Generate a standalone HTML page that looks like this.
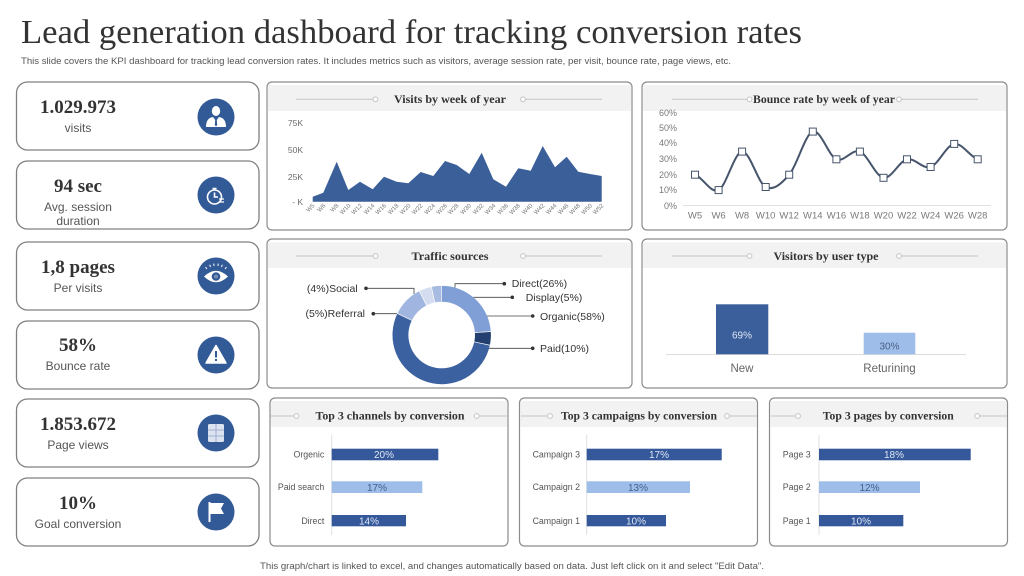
<!DOCTYPE html>
<html><head><meta charset="utf-8">
<style>
html,body{margin:0;padding:0;background:#fff;}
svg{display:block;}
.t{font-family:"Liberation Serif",serif;font-weight:bold;fill:#333;}
.s{font-family:"Liberation Sans",sans-serif;}
</style></head>
<body>
<svg width="1024" height="576" viewBox="0 0 1024 576" xmlns="http://www.w3.org/2000/svg">
<rect width="1024" height="576" fill="#fff"/>
<!-- Title -->
<text x="21" y="43" font-family="Liberation Serif, serif" font-size="34" fill="#333" textLength="781" lengthAdjust="spacingAndGlyphs">Lead generation dashboard for tracking conversion rates</text>
<text x="21" y="64" class="s" font-size="9" fill="#555" textLength="710" lengthAdjust="spacingAndGlyphs">This slide covers the KPI dashboard for tracking lead conversion rates. It includes metrics such as visitors, average session rate, per visit, bounce rate, page views, etc.</text>

<!-- KPI cards -->
<g fill="#fff" stroke="#808080" stroke-width="1.3">
<rect x="16.5" y="82" width="242.5" height="68" rx="11"/>
<rect x="16.5" y="161" width="242.5" height="68" rx="11"/>
<rect x="16.5" y="242" width="242.5" height="68" rx="11"/>
<rect x="16.5" y="321" width="242.5" height="68" rx="11"/>
<rect x="16.5" y="399" width="242.5" height="68" rx="11"/>
<rect x="16.5" y="478" width="242.5" height="68" rx="11"/>
</g>
<g class="t" font-size="19" text-anchor="middle">
<text x="78" y="113">1.029.973</text>
<text x="78" y="192">94 sec</text>
<text x="78" y="273">1,8 pages</text>
<text x="78" y="351">58%</text>
<text x="78" y="430">1.853.672</text>
<text x="78" y="509">10%</text>
</g>
<g class="s" font-size="12" fill="#555" text-anchor="middle">
<text x="78" y="132">visits</text>
<text x="78" y="211">Avg. session</text>
<text x="78" y="225">duration</text>
<text x="78" y="292">Per visits</text>
<text x="78" y="370">Bounce rate</text>
<text x="78" y="449">Page views</text>
<text x="78" y="528">Goal conversion</text>
</g>
<!-- icons -->
<g fill="#315a97">
<circle cx="216" cy="117" r="18.5"/>
<circle cx="216" cy="195" r="18.5"/>
<circle cx="216" cy="276" r="18.5"/>
<circle cx="216" cy="355" r="18.5"/>
<circle cx="216" cy="433" r="18.5"/>
<circle cx="216" cy="512" r="18.5"/>
</g>
<!-- person -->
<g fill="#fff">
<ellipse cx="216" cy="111" rx="4.2" ry="5"/>
<path d="M206 127 Q206 118 213 117 L216 121 L219 117 Q226 118 226 127 Z"/>
<path d="M215.3 118.5 L216.7 118.5 L217.2 125 L216 126.5 L214.8 125 Z" fill="#315a97"/>
</g>
<!-- stopwatch -->
<g fill="none" stroke="#fff" stroke-width="1.6">
<circle cx="214.5" cy="197" r="7"/>
<path d="M214.5 192.5 V197 H218"/>
<path d="M212.5 188.5 H216.5 M214.5 188.5 V190"/>
<path d="M219 199 h5 M220 202 h4" stroke-width="1.2"/>
</g>
<!-- eye -->
<g>
<path d="M204 276.5 Q216 265 228 276.5 Q216 288 204 276.5 Z" fill="#fff"/>
<circle cx="216" cy="276.5" r="4.3" fill="#315a97"/>
<circle cx="216" cy="276.5" r="2" fill="#7a8fb5"/>
<g stroke="#fff" stroke-width="1"><path d="M207 269 l-1.5 -2 M210.5 267 l-0.8 -2.3 M214 266 l-0.2 -2.4 M218 266 l0.2 -2.4 M221.5 267 l0.8 -2.3 M225 269 l1.5 -2"/></g>
</g>
<!-- warning -->
<path d="M216 345.5 L226 363 H206 Z" fill="#fff" stroke="#fff" stroke-width="1.5" stroke-linejoin="round"/>
<rect x="215" y="351" width="2" height="6.5" fill="#315a97"/>
<rect x="215" y="359" width="2" height="2" fill="#315a97"/>
<!-- document -->
<rect x="208" y="424" width="16" height="18" rx="1.5" fill="#dbe3f0"/>
<g stroke="#9fb0cf" stroke-width="1"><path d="M208 430 H224 M208 436 H224 M216 424 V442"/></g>
<!-- flag -->
<path d="M209.5 502 V522" stroke="#fff" stroke-width="2"/>
<path d="M210.5 503 H224 L221 508.5 L224 514 H210.5 Z" fill="#fff"/>

<!-- Panels -->
<g fill="#fff" stroke="#8c8c8c" stroke-width="1.2">
<rect x="267" y="82" width="365" height="148" rx="5"/>
<rect x="642" y="82" width="365" height="148" rx="5"/>
<rect x="267" y="239" width="365" height="149" rx="5"/>
<rect x="642" y="239" width="365" height="149" rx="5"/>
<rect x="270" y="398" width="238" height="148" rx="5"/>
<rect x="519.5" y="398" width="238" height="148" rx="5"/>
<rect x="769.5" y="398" width="238" height="148" rx="5"/>
</g>
<g fill="#f2f2f2">
<rect x="268" y="85" width="363" height="26"/>
<rect x="643" y="85" width="363" height="26"/>
<rect x="268" y="242.5" width="363" height="25.5"/>
<rect x="643" y="242.5" width="363" height="25.5"/>
<rect x="271" y="401" width="236" height="26"/>
<rect x="520.5" y="401" width="236" height="26"/>
<rect x="770.5" y="401" width="236" height="26"/>
</g>
<!-- header lines -->
<g stroke="#c4c4c4" stroke-width="1" fill="#fff">
<path d="M296 99.3 H373 M525.5 99.3 H602"/><circle cx="375.5" cy="99.3" r="2.4"/><circle cx="523" cy="99.3" r="2.4"/>
<path d="M672 99.3 H747 M901.5 99.3 H978"/><circle cx="749.5" cy="99.3" r="2.4"/><circle cx="899" cy="99.3" r="2.4"/>
<path d="M296 256 H373 M525.5 256 H602"/><circle cx="375.5" cy="256" r="2.4"/><circle cx="523" cy="256" r="2.4"/>
<path d="M672 256 H747 M901.5 256 H978"/><circle cx="749.5" cy="256" r="2.4"/><circle cx="899" cy="256" r="2.4"/>
<path d="M271 416 H294 M479 416 H507"/><circle cx="296.5" cy="416" r="2.4"/><circle cx="476.7" cy="416" r="2.4"/>
<path d="M521 416 H547.5 M729.5 416 H757"/><circle cx="550" cy="416" r="2.4"/><circle cx="727" cy="416" r="2.4"/>
<path d="M771 416 H795.5 M980 416 H1007"/><circle cx="798" cy="416" r="2.4"/><circle cx="977.3" cy="416" r="2.4"/>
</g>
<!-- panel titles -->
<g class="t" font-size="12" text-anchor="middle">
<text x="450" y="103" textLength="112" lengthAdjust="spacingAndGlyphs">Visits by week of year</text>
<text x="824" y="103" textLength="142" lengthAdjust="spacingAndGlyphs">Bounce rate by week of year</text>
<text x="450" y="260" textLength="77" lengthAdjust="spacingAndGlyphs">Traffic sources</text>
<text x="826" y="260" textLength="105" lengthAdjust="spacingAndGlyphs">Visitors by user type</text>
<text x="390" y="419.5" textLength="149" lengthAdjust="spacingAndGlyphs">Top 3 channels by conversion</text>
<text x="639" y="419.5" textLength="156" lengthAdjust="spacingAndGlyphs">Top 3 campaigns by conversion</text>
<text x="888.3" y="419.5" textLength="131" lengthAdjust="spacingAndGlyphs">Top 3 pages by conversion</text>
</g>

<!-- Visits area chart -->
<g class="s" font-size="8.5" fill="#6b6b6b" text-anchor="end">
<text x="303" y="126">75K</text>
<text x="303" y="153">50K</text>
<text x="303" y="180">25K</text>
<text x="303" y="205">- K</text>
</g>
<path d="M312.7 201.7 L312.7 196.7 L323.3 192.7 L336.7 161.7 L348.3 190 L360 181.7 L372.7 189.3 L384 176.7 L396.7 181.7 L408.3 183.3 L420.7 172 L433.3 176 L445 161 L456.7 165 L469.3 174 L481.7 152.7 L493.3 179.3 L506 186.7 L518.3 168.3 L530.7 170.7 L542.7 146 L555 167.3 L566.7 156.7 L578.3 171.7 L590 174 L601.7 176 L601.7 201.7 Z" fill="#3b5f98"/>
<g class="s" font-size="6" fill="#777" text-anchor="end">
<text transform="translate(315,206) rotate(-45)">W5</text>
<text transform="translate(326,206) rotate(-45)">W6</text>
<text transform="translate(339,206) rotate(-45)">W8</text>
<text transform="translate(351,206) rotate(-45)">W10</text>
<text transform="translate(362.5,206) rotate(-45)">W12</text>
<text transform="translate(375,206) rotate(-45)">W14</text>
<text transform="translate(386.5,206) rotate(-45)">W16</text>
<text transform="translate(399,206) rotate(-45)">W18</text>
<text transform="translate(411,206) rotate(-45)">W20</text>
<text transform="translate(423,206) rotate(-45)">W22</text>
<text transform="translate(435.5,206) rotate(-45)">W24</text>
<text transform="translate(447.5,206) rotate(-45)">W26</text>
<text transform="translate(459,206) rotate(-45)">W28</text>
<text transform="translate(471.5,206) rotate(-45)">W30</text>
<text transform="translate(484,206) rotate(-45)">W32</text>
<text transform="translate(496,206) rotate(-45)">W34</text>
<text transform="translate(508.5,206) rotate(-45)">W36</text>
<text transform="translate(520.5,206) rotate(-45)">W38</text>
<text transform="translate(533,206) rotate(-45)">W40</text>
<text transform="translate(545,206) rotate(-45)">W42</text>
<text transform="translate(557,206) rotate(-45)">W44</text>
<text transform="translate(569,206) rotate(-45)">W46</text>
<text transform="translate(580.5,206) rotate(-45)">W48</text>
<text transform="translate(592.5,206) rotate(-45)">W50</text>
<text transform="translate(604,206) rotate(-45)">W52</text>
</g>

<!-- Bounce rate line chart -->
<g class="s" font-size="9" fill="#7a7a7a" text-anchor="end">
<text x="677" y="116">60%</text>
<text x="677" y="131">50%</text>
<text x="677" y="146">40%</text>
<text x="677" y="162">30%</text>
<text x="677" y="178">20%</text>
<text x="677" y="193">10%</text>
<text x="677" y="209">0%</text>
</g>
<path d="M683 205.5 H991" stroke="#e0e0e0" stroke-width="1"/>
<g class="s" font-size="9.5" fill="#7a7a7a" text-anchor="middle">
<text x="695" y="218.5">W5</text>
<text x="718.6" y="218.5">W6</text>
<text x="742.1" y="218.5">W8</text>
<text x="765.7" y="218.5">W10</text>
<text x="789.2" y="218.5">W12</text>
<text x="812.8" y="218.5">W14</text>
<text x="836.4" y="218.5">W16</text>
<text x="859.9" y="218.5">W18</text>
<text x="883.5" y="218.5">W20</text>
<text x="907" y="218.5">W22</text>
<text x="930.6" y="218.5">W24</text>
<text x="954.2" y="218.5">W26</text>
<text x="977.7" y="218.5">W28</text>
</g>
<path d="M695 174.7 C702.85 177.3 710.7 193.9 718.6 190.1 C726.4 186.25 734.3 152.1 742.1 151.6 C750 151.1 757.8 183.15 765.7 187 C773.5 190.85 781.4 183.9 789.2 174.7 C797.1 165.5 805 134.2 812.8 131.6 C820.7 129 828.5 156 836.4 159.3 C844.2 162.6 852.1 148.5 859.9 151.6 C867.8 154.7 875.6 176.5 883.5 177.8 C891.3 179.1 899.2 161.1 907 159.3 C914.9 157.5 922.7 169.6 930.6 167 C938.4 164.4 946.3 145.2 954.2 143.9 C962 142.6 969.9 156.7 977.7 159.3" fill="none" stroke="#46556b" stroke-width="2"/>
<g fill="#fff" stroke="#46556b" stroke-width="1">
<rect x="691.5" y="171.2" width="7" height="7"/>
<rect x="715.1" y="186.6" width="7" height="7"/>
<rect x="738.6" y="148.1" width="7" height="7"/>
<rect x="762.2" y="183.5" width="7" height="7"/>
<rect x="785.7" y="171.2" width="7" height="7"/>
<rect x="809.3" y="128.1" width="7" height="7"/>
<rect x="832.9" y="155.8" width="7" height="7"/>
<rect x="856.4" y="148.1" width="7" height="7"/>
<rect x="880" y="174.3" width="7" height="7"/>
<rect x="903.5" y="155.8" width="7" height="7"/>
<rect x="927.1" y="163.5" width="7" height="7"/>
<rect x="950.7" y="140.4" width="7" height="7"/>
<rect x="974.2" y="155.8" width="7" height="7"/>
</g>

<!-- Traffic sources donut -->
<g stroke="#fff" stroke-width="0.6">
<path d="M441.7 285.5 A49.5 49.5 0 0 1 491.08 331.54 L474.62 332.7 A33 33 0 0 0 441.7 302 Z" fill="#7f9fd6"/>
<path d="M491.08 331.54 A49.5 49.5 0 0 1 490.12 345.29 L473.98 341.86 A33 33 0 0 0 474.62 332.7 Z" fill="#223f70"/>
<path d="M490.12 345.29 A49.5 49.5 0 1 1 397.21 313.3 L412.04 320.53 A33 33 0 1 0 473.98 341.86 Z" fill="#3c61a0"/>
<path d="M397.21 313.3 A49.5 49.5 0 0 1 419.23 290.9 L426.72 305.6 A33 33 0 0 0 412.04 320.53 Z" fill="#a0b6e0"/>
<path d="M419.23 290.9 A49.5 49.5 0 0 1 431.41 286.58 L434.84 302.72 A33 33 0 0 0 426.72 305.6 Z" fill="#d3ddef"/>
<path d="M431.41 286.58 A49.5 49.5 0 0 1 441.7 285.5 L441.7 302 A33 33 0 0 0 434.84 302.72 Z" fill="#a8bce2"/>
</g>
<g stroke="#444" stroke-width="0.8" fill="none">
<path d="M504.3 283.7 H455 V287.5"/>
<path d="M512.3 297.3 H473.5"/>
<path d="M532.7 316 H487"/>
<path d="M532.7 348.3 H489"/>
<path d="M366 288.3 H414 V294"/>
<path d="M373.3 313.7 H397"/>
</g>
<g fill="#333">
<circle cx="504.3" cy="283.7" r="1.8"/>
<circle cx="512.3" cy="297.3" r="1.8"/>
<circle cx="532.7" cy="316" r="1.8"/>
<circle cx="532.7" cy="348.3" r="1.8"/>
<circle cx="366" cy="288.3" r="1.8"/>
<circle cx="373.3" cy="313.7" r="1.8"/>
</g>
<g class="s" font-size="10.5" fill="#333">
<text x="511.7" y="287">Direct(26%)</text>
<text x="525.7" y="301">Display(5%)</text>
<text x="540" y="320">Organic(58%)</text>
<text x="540" y="352">Paid(10%)</text>
<text x="357.7" y="292" text-anchor="end">(4%)Social</text>
<text x="365" y="317" text-anchor="end">(5%)Referral</text>
</g>

<!-- Visitors by user type -->
<path d="M666 354.5 H966" stroke="#dcdcdc" stroke-width="1"/>
<rect x="716" y="304.3" width="52.3" height="50" fill="#3a5f9b"/>
<rect x="863.7" y="332.7" width="51.6" height="21.6" fill="#9ebde8"/>
<g class="s" font-size="10" text-anchor="middle">
<text x="742" y="338.5" fill="#dfe7f5">69%</text>
<text x="889.5" y="349.5" fill="#4a5f85">30%</text>
</g>
<g class="s" font-size="11.5" fill="#666" text-anchor="middle">
<text x="742" y="372">New</text>
<text x="889.5" y="372">Returining</text>
</g>

<!-- Bottom bar charts -->
<g stroke="#e0e0e0" stroke-width="1">
<path d="M331.7 435 V535"/>
<path d="M586.7 435 V535"/>
<path d="M819 435 V535"/>
</g>
<g fill="#34589a">
<rect x="331.7" y="448.7" width="106.6" height="11.6"/>
<rect x="331.7" y="515" width="74.3" height="11.3"/>
<rect x="586.7" y="448.7" width="135" height="11.6"/>
<rect x="586.7" y="515" width="79.3" height="11.3"/>
<rect x="819" y="448.7" width="151.7" height="11.6"/>
<rect x="819" y="515" width="84.3" height="11.3"/>
</g>
<g fill="#9ebde8">
<rect x="331.7" y="481.3" width="90.6" height="11.7"/>
<rect x="586.7" y="481.3" width="103.3" height="11.7"/>
<rect x="819" y="481.3" width="101" height="11.7"/>
</g>
<g class="s" font-size="10" text-anchor="middle" fill="#dfe7f5">
<text x="384" y="458">20%</text>
<text x="369" y="524.5">14%</text>
<text x="659" y="458">17%</text>
<text x="636" y="524.5">10%</text>
<text x="894" y="458">18%</text>
<text x="861" y="524.5">10%</text>
</g>
<g class="s" font-size="10" text-anchor="middle" fill="#44618f">
<text x="377" y="491">17%</text>
<text x="638" y="491">13%</text>
<text x="869.5" y="491">12%</text>
</g>
<g class="s" font-size="8.8" fill="#555" text-anchor="end">
<text x="324.3" y="457.5">Orgenic</text>
<text x="324.3" y="490">Paid search</text>
<text x="324.3" y="524">Direct</text>
<text x="580" y="457.5">Campaign 3</text>
<text x="580" y="490">Campaign 2</text>
<text x="580" y="524">Campaign 1</text>
<text x="810.7" y="457.5">Page 3</text>
<text x="810.7" y="490">Page 2</text>
<text x="810.7" y="524">Page 1</text>
</g>

<!-- footer -->
<text x="260" y="569" class="s" font-size="9" fill="#555" textLength="504" lengthAdjust="spacingAndGlyphs">This graph/chart is linked to excel,  and changes automatically based on data. Just left click on it and select "Edit Data".</text>
</svg>
</body></html>
